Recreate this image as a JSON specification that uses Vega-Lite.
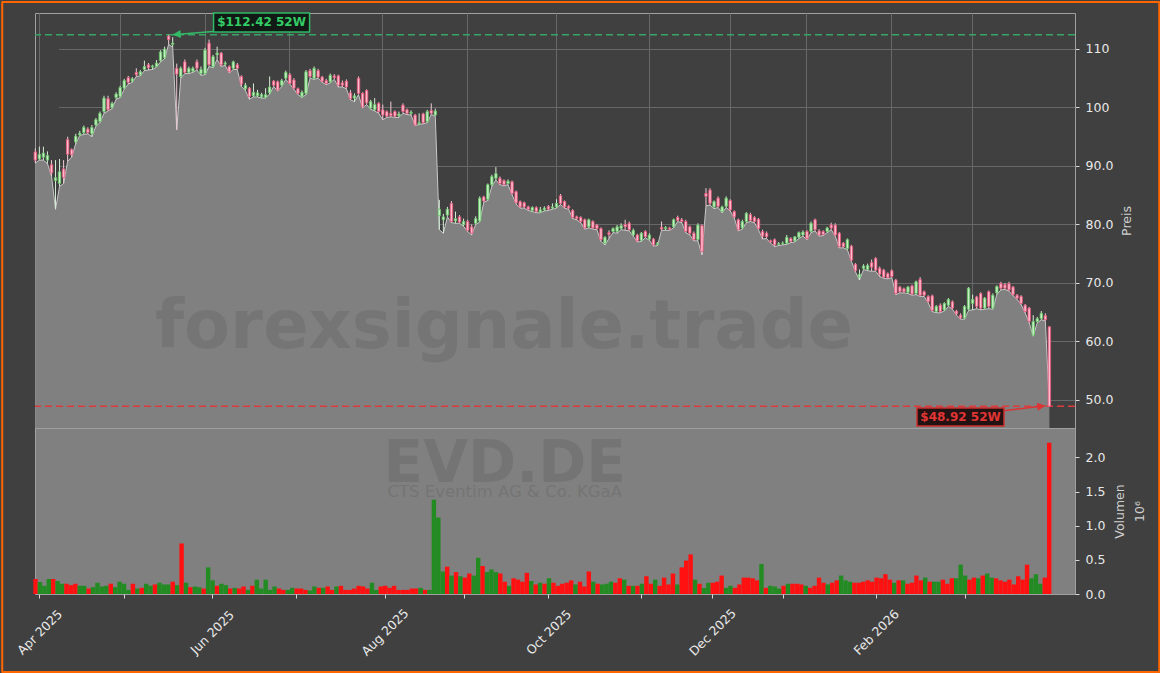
{
"$schema": "https://vega.github.io/schema/vega-lite/v6.json",
"background": "#404040",
"padding": {"left": 0, "top": 0, "right": 0, "bottom": 0},
"spacing": 0,
"bounds": "flush",
"config": {
  "font": "DejaVu Sans",
  "axis": {"labelFont": "DejaVu Sans", "titleFont": "DejaVu Sans", "labelColor": "#e8e8e8", "titleColor": "#d0d0d0", "labelFontSize": 12.5, "titleFontSize": 12.5, "titleFontWeight": "normal", "tickColor": "#d8d8d8", "tickSize": 4, "domain": false, "gridColor": "#686868", "gridWidth": 1},
  "view": {"stroke": "#a0a0a0"}
},
"datasets": {
"ohlc": [
{"d":"2025-03-31","o":92.4,"h":93.0,"l":90.5,"c":91.0,"v":220000},
{"d":"2025-04-01","o":91.2,"h":93.3,"l":91.0,"c":92.0,"v":175000},
{"d":"2025-04-02","o":91.5,"h":93.3,"l":91.0,"c":92.2,"v":120000},
{"d":"2025-04-03","o":91.0,"h":92.5,"l":90.4,"c":91.8,"v":220000},
{"d":"2025-04-04","o":90.2,"h":91.0,"l":88.3,"c":88.8,"v":220000},
{"d":"2025-04-07","o":87.5,"h":91.0,"l":82.6,"c":88.0,"v":190000},
{"d":"2025-04-08","o":87.0,"h":91.2,"l":86.5,"c":89.0,"v":150000},
{"d":"2025-04-09","o":89.5,"h":91.0,"l":87.0,"c":88.0,"v":150000},
{"d":"2025-04-10","o":94.5,"h":95.0,"l":90.8,"c":92.0,"v":130000},
{"d":"2025-04-11","o":92.8,"h":93.0,"l":91.5,"c":91.9,"v":150000},
{"d":"2025-04-14","o":94.1,"h":95.5,"l":93.8,"c":95.1,"v":120000},
{"d":"2025-04-15","o":95.3,"h":96.0,"l":95.2,"c":95.6,"v":null},
{"d":"2025-04-16","o":95.7,"h":96.9,"l":95.4,"c":96.6,"v":120000},
{"d":"2025-04-17","o":96.3,"h":96.6,"l":95.5,"c":95.7,"v":80000},
{"d":"2025-04-22","o":95.5,"h":97.0,"l":95.0,"c":96.6,"v":100000},
{"d":"2025-04-23","o":97.0,"h":98.2,"l":96.8,"c":97.9,"v":165000},
{"d":"2025-04-24","o":97.6,"h":99.3,"l":97.4,"c":99.0,"v":110000},
{"d":"2025-04-25","o":99.3,"h":102.0,"l":99.0,"c":101.6,"v":120000},
{"d":"2025-04-28","o":101.5,"h":102.0,"l":99.4,"c":99.6,"v":150000},
{"d":"2025-04-29","o":100.0,"h":101.0,"l":99.8,"c":100.7,"v":100000},
{"d":"2025-04-30","o":101.7,"h":102.6,"l":101.4,"c":102.3,"v":180000},
{"d":"2025-05-02","o":101.9,"h":103.7,"l":101.7,"c":103.4,"v":150000},
{"d":"2025-05-05","o":103.3,"h":104.9,"l":103.1,"c":104.6,"v":60000},
{"d":"2025-05-06","o":105.1,"h":105.4,"l":104.0,"c":104.3,"v":150000},
{"d":"2025-05-07","o":104.5,"h":105.2,"l":104.3,"c":104.9,"v":80000},
{"d":"2025-05-08","o":106.0,"h":106.7,"l":105.3,"c":105.6,"v":90000},
{"d":"2025-05-09","o":105.6,"h":106.4,"l":105.4,"c":106.1,"v":150000},
{"d":"2025-05-12","o":106.5,"h":108.0,"l":106.3,"c":107.0,"v":120000},
{"d":"2025-05-13","o":107.3,"h":107.6,"l":106.4,"c":106.8,"v":140000},
{"d":"2025-05-14","o":106.9,"h":107.3,"l":106.5,"c":107.1,"v":null},
{"d":"2025-05-15","o":107.0,"h":108.1,"l":106.9,"c":107.6,"v":165000},
{"d":"2025-05-16","o":108.0,"h":109.8,"l":107.8,"c":109.5,"v":140000},
{"d":"2025-05-19","o":108.5,"h":110.4,"l":108.3,"c":110.0,"v":140000},
{"d":"2025-05-20","o":112.2,"h":112.42,"l":110.8,"c":111.6,"v":180000},
{"d":"2025-05-21","o":110.8,"h":112.0,"l":110.3,"c":111.0,"v":130000},
{"d":"2025-05-22","o":106.7,"h":107.5,"l":96.2,"c":105.7,"v":740000},
{"d":"2025-05-23","o":105.3,"h":107.0,"l":105.0,"c":106.7,"v":165000},
{"d":"2025-05-26","o":107.8,"h":108.2,"l":105.8,"c":106.0,"v":100000},
{"d":"2025-05-27","o":106.0,"h":107.0,"l":105.8,"c":106.7,"v":110000},
{"d":"2025-05-28","o":106.2,"h":107.0,"l":106.0,"c":106.7,"v":100000},
{"d":"2025-05-29","o":107.8,"h":108.2,"l":106.4,"c":106.7,"v":80000},
{"d":"2025-05-30","o":105.8,"h":107.0,"l":105.5,"c":106.5,"v":390000},
{"d":"2025-06-02","o":105.8,"h":110.2,"l":105.6,"c":109.8,"v":200000},
{"d":"2025-06-03","o":111.0,"h":111.6,"l":107.0,"c":107.3,"v":120000},
{"d":"2025-06-04","o":107.0,"h":109.0,"l":106.8,"c":108.7,"v":150000},
{"d":"2025-06-05","o":109.0,"h":110.4,"l":108.2,"c":109.3,"v":130000},
{"d":"2025-06-06","o":109.3,"h":109.5,"l":107.0,"c":107.3,"v":80000},
{"d":"2025-06-09","o":107.4,"h":107.9,"l":107.2,"c":107.6,"v":null},
{"d":"2025-06-10","o":107.0,"h":107.2,"l":105.9,"c":106.1,"v":null},
{"d":"2025-06-11","o":106.7,"h":108.0,"l":106.5,"c":107.8,"v":90000},
{"d":"2025-06-12","o":107.3,"h":107.6,"l":106.5,"c":106.7,"v":80000},
{"d":"2025-06-13","o":105.3,"h":105.5,"l":103.6,"c":104.0,"v":110000},
{"d":"2025-06-16","o":103.2,"h":104.2,"l":102.9,"c":103.8,"v":60000},
{"d":"2025-06-17","o":103.3,"h":103.5,"l":101.4,"c":101.9,"v":120000},
{"d":"2025-06-18","o":102.0,"h":104.1,"l":101.8,"c":102.6,"v":210000},
{"d":"2025-06-19","o":102.0,"h":103.0,"l":101.8,"c":102.5,"v":80000},
{"d":"2025-06-20","o":101.8,"h":102.5,"l":101.6,"c":102.2,"v":210000},
{"d":"2025-06-23","o":101.7,"h":103.3,"l":101.6,"c":102.2,"v":60000},
{"d":"2025-06-24","o":102.5,"h":105.3,"l":102.3,"c":103.5,"v":110000},
{"d":"2025-06-25","o":104.5,"h":104.7,"l":103.6,"c":103.8,"v":80000},
{"d":"2025-06-26","o":104.4,"h":104.6,"l":102.8,"c":103.0,"v":60000},
{"d":"2025-06-27","o":103.8,"h":104.9,"l":103.6,"c":104.6,"v":60000},
{"d":"2025-06-30","o":105.0,"h":106.3,"l":104.8,"c":106.0,"v":90000},
{"d":"2025-07-01","o":105.6,"h":105.9,"l":104.0,"c":104.1,"v":80000},
{"d":"2025-07-02","o":104.7,"h":105.0,"l":103.1,"c":103.3,"v":80000},
{"d":"2025-07-03","o":103.2,"h":103.4,"l":102.2,"c":102.4,"v":60000},
{"d":"2025-07-04","o":101.9,"h":102.9,"l":101.7,"c":102.6,"v":50000},
{"d":"2025-07-07","o":102.4,"h":106.4,"l":102.2,"c":106.1,"v":110000},
{"d":"2025-07-08","o":106.3,"h":106.6,"l":105.0,"c":105.3,"v":90000},
{"d":"2025-07-09","o":105.0,"h":107.0,"l":104.8,"c":106.7,"v":90000},
{"d":"2025-07-10","o":106.3,"h":106.6,"l":105.0,"c":105.2,"v":110000},
{"d":"2025-07-11","o":105.2,"h":105.4,"l":104.3,"c":104.5,"v":null},
{"d":"2025-07-14","o":104.6,"h":104.9,"l":103.9,"c":104.1,"v":60000},
{"d":"2025-07-15","o":104.4,"h":105.8,"l":104.2,"c":105.5,"v":110000},
{"d":"2025-07-16","o":105.4,"h":105.7,"l":104.8,"c":105.1,"v":null},
{"d":"2025-07-17","o":105.4,"h":105.6,"l":103.5,"c":103.8,"v":120000},
{"d":"2025-07-18","o":104.2,"h":104.6,"l":103.5,"c":103.8,"v":60000},
{"d":"2025-07-21","o":104.5,"h":104.8,"l":103.2,"c":103.5,"v":60000},
{"d":"2025-07-22","o":102.5,"h":103.0,"l":101.3,"c":101.5,"v":80000},
{"d":"2025-07-23","o":101.6,"h":102.4,"l":101.0,"c":102.0,"v":null},
{"d":"2025-07-24","o":105.0,"h":105.3,"l":102.2,"c":102.4,"v":120000},
{"d":"2025-07-25","o":102.4,"h":102.6,"l":99.9,"c":100.1,"v":110000},
{"d":"2025-07-28","o":102.9,"h":103.1,"l":100.5,"c":100.8,"v":80000},
{"d":"2025-07-29","o":99.9,"h":101.3,"l":99.7,"c":101.0,"v":165000},
{"d":"2025-07-30","o":99.6,"h":101.6,"l":99.4,"c":100.5,"v":60000},
{"d":"2025-07-31","o":100.7,"h":100.9,"l":99.0,"c":99.3,"v":110000},
{"d":"2025-08-01","o":99.6,"h":100.5,"l":97.9,"c":98.7,"v":120000},
{"d":"2025-08-04","o":99.3,"h":99.5,"l":98.3,"c":98.5,"v":90000},
{"d":"2025-08-05","o":99.0,"h":101.0,"l":98.4,"c":98.6,"v":120000},
{"d":"2025-08-06","o":99.3,"h":99.5,"l":98.3,"c":98.5,"v":60000},
{"d":"2025-08-07","o":98.6,"h":99.3,"l":98.3,"c":98.9,"v":null},
{"d":"2025-08-08","o":100.4,"h":100.7,"l":99.0,"c":99.3,"v":60000},
{"d":"2025-08-11","o":99.6,"h":99.8,"l":98.8,"c":99.0,"v":60000},
{"d":"2025-08-12","o":99.0,"h":99.5,"l":98.7,"c":99.2,"v":null},
{"d":"2025-08-13","o":98.7,"h":98.9,"l":96.9,"c":97.0,"v":80000},
{"d":"2025-08-14","o":97.2,"h":99.0,"l":97.1,"c":97.4,"v":null},
{"d":"2025-08-15","o":98.9,"h":99.1,"l":97.2,"c":97.4,"v":80000},
{"d":"2025-08-18","o":97.6,"h":99.6,"l":97.4,"c":99.3,"v":90000},
{"d":"2025-08-19","o":99.5,"h":100.7,"l":98.8,"c":99.0,"v":60000},
{"d":"2025-08-20","o":98.7,"h":99.8,"l":98.5,"c":99.4,"v":60000},
{"d":"2025-08-21","o":81.5,"h":84.2,"l":79.1,"c":82.6,"v":1380000},
{"d":"2025-08-22","o":80.8,"h":81.8,"l":78.5,"c":81.3,"v":1120000},
{"d":"2025-08-25","o":81.6,"h":83.0,"l":81.3,"c":82.6,"v":330000},
{"d":"2025-08-26","o":83.6,"h":84.0,"l":80.3,"c":80.5,"v":400000},
{"d":"2025-08-27","o":80.6,"h":82.2,"l":80.2,"c":81.0,"v":270000},
{"d":"2025-08-28","o":81.3,"h":81.6,"l":80.2,"c":80.4,"v":320000},
{"d":"2025-08-29","o":80.0,"h":81.0,"l":79.7,"c":80.5,"v":260000},
{"d":"2025-09-01","o":80.5,"h":80.8,"l":78.8,"c":79.0,"v":240000},
{"d":"2025-09-02","o":79.6,"h":80.0,"l":78.2,"c":78.5,"v":300000},
{"d":"2025-09-03","o":80.2,"h":81.4,"l":80.0,"c":81.0,"v":270000},
{"d":"2025-09-04","o":80.6,"h":84.8,"l":80.4,"c":84.5,"v":530000},
{"d":"2025-09-05","o":84.7,"h":84.9,"l":83.8,"c":84.0,"v":410000},
{"d":"2025-09-08","o":84.3,"h":87.0,"l":84.1,"c":86.8,"v":320000},
{"d":"2025-09-09","o":86.8,"h":88.5,"l":86.5,"c":88.2,"v":360000},
{"d":"2025-09-10","o":87.9,"h":89.8,"l":87.6,"c":88.7,"v":320000},
{"d":"2025-09-11","o":87.9,"h":88.2,"l":86.8,"c":87.0,"v":300000},
{"d":"2025-09-12","o":87.5,"h":87.7,"l":86.6,"c":86.8,"v":180000},
{"d":"2025-09-15","o":87.0,"h":87.7,"l":86.8,"c":87.4,"v":120000},
{"d":"2025-09-16","o":87.3,"h":87.5,"l":85.1,"c":85.3,"v":230000},
{"d":"2025-09-17","o":85.6,"h":85.8,"l":83.5,"c":83.7,"v":210000},
{"d":"2025-09-18","o":83.9,"h":84.1,"l":82.8,"c":83.0,"v":180000},
{"d":"2025-09-19","o":83.7,"h":83.9,"l":82.8,"c":83.0,"v":310000},
{"d":"2025-09-22","o":83.0,"h":83.2,"l":82.4,"c":82.6,"v":null},
{"d":"2025-09-23","o":82.4,"h":83.1,"l":82.2,"c":82.9,"v":190000},
{"d":"2025-09-24","o":82.9,"h":83.1,"l":82.0,"c":82.2,"v":140000},
{"d":"2025-09-25","o":82.1,"h":83.0,"l":82.0,"c":82.5,"v":165000},
{"d":"2025-09-26","o":82.5,"h":83.1,"l":82.3,"c":82.8,"v":null},
{"d":"2025-09-29","o":83.1,"h":83.3,"l":82.4,"c":82.6,"v":150000},
{"d":"2025-09-30","o":82.8,"h":83.6,"l":82.6,"c":83.0,"v":null},
{"d":"2025-10-01","o":83.0,"h":84.3,"l":82.8,"c":83.6,"v":230000},
{"d":"2025-10-02","o":84.9,"h":85.2,"l":83.4,"c":83.6,"v":165000},
{"d":"2025-10-03","o":83.9,"h":84.1,"l":82.8,"c":83.0,"v":120000},
{"d":"2025-10-06","o":83.1,"h":83.3,"l":82.6,"c":82.8,"v":null},
{"d":"2025-10-07","o":82.4,"h":82.6,"l":81.0,"c":81.2,"v":150000},
{"d":"2025-10-08","o":81.3,"h":81.5,"l":80.8,"c":81.0,"v":null},
{"d":"2025-10-09","o":81.2,"h":81.4,"l":80.3,"c":80.5,"v":165000},
{"d":"2025-10-10","o":80.8,"h":81.0,"l":79.2,"c":79.4,"v":200000},
{"d":"2025-10-13","o":79.6,"h":81.0,"l":79.4,"c":80.8,"v":140000},
{"d":"2025-10-14","o":80.5,"h":80.7,"l":79.2,"c":79.4,"v":180000},
{"d":"2025-10-15","o":79.9,"h":80.1,"l":79.1,"c":79.3,"v":110000},
{"d":"2025-10-16","o":79.3,"h":79.5,"l":77.1,"c":77.4,"v":330000},
{"d":"2025-10-17","o":76.8,"h":78.0,"l":76.5,"c":77.8,"v":180000},
{"d":"2025-10-20","o":78.6,"h":79.0,"l":77.6,"c":78.3,"v":150000},
{"d":"2025-10-21","o":78.8,"h":79.5,"l":78.6,"c":79.3,"v":140000},
{"d":"2025-10-22","o":78.8,"h":79.9,"l":78.5,"c":79.6,"v":150000},
{"d":"2025-10-23","o":79.3,"h":80.2,"l":79.1,"c":79.8,"v":180000},
{"d":"2025-10-24","o":80.0,"h":80.8,"l":79.0,"c":79.6,"v":165000},
{"d":"2025-10-27","o":80.2,"h":80.5,"l":78.9,"c":79.1,"v":230000},
{"d":"2025-10-28","o":78.2,"h":79.3,"l":78.0,"c":79.0,"v":210000},
{"d":"2025-10-29","o":78.2,"h":78.4,"l":77.0,"c":77.2,"v":120000},
{"d":"2025-10-30","o":77.3,"h":78.7,"l":77.1,"c":78.5,"v":120000},
{"d":"2025-10-31","o":78.8,"h":79.0,"l":77.7,"c":77.9,"v":120000},
{"d":"2025-11-03","o":77.5,"h":78.5,"l":77.3,"c":78.2,"v":150000},
{"d":"2025-11-04","o":77.5,"h":77.7,"l":76.3,"c":76.5,"v":260000},
{"d":"2025-11-05","o":76.6,"h":77.0,"l":76.4,"c":76.8,"v":null},
{"d":"2025-11-06","o":79.5,"h":80.5,"l":79.0,"c":79.2,"v":150000},
{"d":"2025-11-07","o":79.3,"h":79.7,"l":79.0,"c":79.5,"v":null},
{"d":"2025-11-10","o":79.4,"h":79.6,"l":79.0,"c":79.2,"v":null},
{"d":"2025-11-11","o":79.6,"h":81.0,"l":79.4,"c":80.8,"v":210000},
{"d":"2025-11-12","o":81.2,"h":81.5,"l":80.5,"c":80.7,"v":120000},
{"d":"2025-11-13","o":80.8,"h":81.1,"l":80.3,"c":80.5,"v":null},
{"d":"2025-11-14","o":80.5,"h":80.8,"l":78.6,"c":78.8,"v":240000},
{"d":"2025-11-17","o":79.6,"h":79.8,"l":78.2,"c":78.5,"v":140000},
{"d":"2025-11-18","o":78.5,"h":78.8,"l":77.2,"c":77.4,"v":300000},
{"d":"2025-11-19","o":77.4,"h":80.2,"l":77.2,"c":79.9,"v":140000},
{"d":"2025-11-20","o":79.8,"h":80.0,"l":74.8,"c":75.4,"v":390000},
{"d":"2025-11-21","o":85.3,"h":86.2,"l":83.2,"c":84.8,"v":490000},
{"d":"2025-11-24","o":85.9,"h":86.2,"l":83.3,"c":83.6,"v":580000},
{"d":"2025-11-25","o":83.0,"h":84.1,"l":82.7,"c":83.9,"v":210000},
{"d":"2025-11-26","o":84.5,"h":84.8,"l":82.9,"c":83.1,"v":150000},
{"d":"2025-11-27","o":82.2,"h":83.2,"l":82.0,"c":83.0,"v":90000},
{"d":"2025-11-28","o":83.1,"h":84.8,"l":82.9,"c":84.5,"v":165000},
{"d":"2025-12-01","o":84.1,"h":84.3,"l":82.3,"c":82.5,"v":165000},
{"d":"2025-12-02","o":82.2,"h":82.4,"l":81.1,"c":81.3,"v":180000},
{"d":"2025-12-03","o":80.8,"h":81.0,"l":78.9,"c":79.1,"v":270000},
{"d":"2025-12-04","o":79.4,"h":80.8,"l":79.2,"c":80.5,"v":90000},
{"d":"2025-12-05","o":80.5,"h":82.1,"l":80.3,"c":81.9,"v":120000},
{"d":"2025-12-08","o":81.7,"h":82.0,"l":80.5,"c":80.7,"v":90000},
{"d":"2025-12-09","o":81.2,"h":81.4,"l":80.3,"c":80.5,"v":140000},
{"d":"2025-12-10","o":80.9,"h":81.1,"l":79.1,"c":79.3,"v":240000},
{"d":"2025-12-11","o":78.8,"h":79.1,"l":77.5,"c":78.0,"v":240000},
{"d":"2025-12-12","o":78.5,"h":78.8,"l":77.6,"c":77.9,"v":230000},
{"d":"2025-12-15","o":77.2,"h":77.4,"l":76.8,"c":77.0,"v":null},
{"d":"2025-12-16","o":77.4,"h":77.6,"l":76.2,"c":76.5,"v":200000},
{"d":"2025-12-17","o":76.6,"h":77.0,"l":76.4,"c":76.7,"v":null},
{"d":"2025-12-18","o":76.7,"h":77.1,"l":76.5,"c":76.8,"v":null},
{"d":"2025-12-19","o":76.8,"h":78.2,"l":76.6,"c":77.8,"v":440000},
{"d":"2025-12-22","o":77.6,"h":77.8,"l":76.9,"c":77.1,"v":90000},
{"d":"2025-12-23","o":77.2,"h":78.0,"l":77.0,"c":77.9,"v":120000},
{"d":"2025-12-29","o":77.8,"h":78.8,"l":77.6,"c":78.6,"v":110000},
{"d":"2025-12-30","o":78.2,"h":79.0,"l":78.0,"c":78.7,"v":80000},
{"d":"2026-01-02","o":78.8,"h":79.0,"l":77.4,"c":77.6,"v":120000},
{"d":"2026-01-05","o":78.8,"h":80.5,"l":78.6,"c":80.2,"v":150000},
{"d":"2026-01-06","o":80.8,"h":81.0,"l":78.9,"c":79.1,"v":150000},
{"d":"2026-01-07","o":78.9,"h":79.2,"l":78.0,"c":78.2,"v":150000},
{"d":"2026-01-08","o":78.8,"h":79.0,"l":78.1,"c":78.3,"v":140000},
{"d":"2026-01-09","o":78.8,"h":79.6,"l":78.6,"c":79.4,"v":120000},
{"d":"2026-01-12","o":79.9,"h":80.3,"l":79.1,"c":79.4,"v":90000},
{"d":"2026-01-13","o":79.9,"h":80.2,"l":78.0,"c":78.2,"v":120000},
{"d":"2026-01-14","o":78.5,"h":78.7,"l":76.0,"c":76.2,"v":240000},
{"d":"2026-01-15","o":76.8,"h":77.0,"l":76.0,"c":76.2,"v":165000},
{"d":"2026-01-16","o":75.9,"h":77.6,"l":75.7,"c":77.4,"v":140000},
{"d":"2026-01-19","o":76.3,"h":76.5,"l":73.7,"c":73.9,"v":165000},
{"d":"2026-01-20","o":73.2,"h":73.4,"l":71.9,"c":72.1,"v":200000},
{"d":"2026-01-21","o":71.0,"h":72.3,"l":70.5,"c":71.5,"v":270000},
{"d":"2026-01-22","o":72.5,"h":73.2,"l":72.3,"c":72.9,"v":200000},
{"d":"2026-01-23","o":72.3,"h":73.3,"l":72.1,"c":73.0,"v":180000},
{"d":"2026-01-26","o":73.5,"h":74.0,"l":72.0,"c":72.7,"v":165000},
{"d":"2026-01-27","o":74.2,"h":74.4,"l":72.0,"c":72.2,"v":165000},
{"d":"2026-01-28","o":72.5,"h":72.8,"l":71.1,"c":71.5,"v":180000},
{"d":"2026-01-29","o":72.2,"h":72.4,"l":70.8,"c":71.0,"v":200000},
{"d":"2026-01-30","o":71.6,"h":71.8,"l":70.7,"c":70.9,"v":180000},
{"d":"2026-02-02","o":72.1,"h":72.3,"l":70.9,"c":71.1,"v":240000},
{"d":"2026-02-03","o":70.5,"h":70.7,"l":68.0,"c":68.2,"v":230000},
{"d":"2026-02-04","o":69.3,"h":69.5,"l":68.3,"c":68.5,"v":290000},
{"d":"2026-02-05","o":69.0,"h":69.2,"l":68.3,"c":68.5,"v":210000},
{"d":"2026-02-06","o":68.4,"h":69.5,"l":68.2,"c":69.3,"v":165000},
{"d":"2026-02-09","o":69.5,"h":69.7,"l":67.9,"c":68.1,"v":200000},
{"d":"2026-02-10","o":68.2,"h":70.4,"l":68.0,"c":70.2,"v":200000},
{"d":"2026-02-11","o":70.6,"h":71.0,"l":67.7,"c":67.9,"v":150000},
{"d":"2026-02-12","o":68.5,"h":68.7,"l":67.7,"c":67.9,"v":165000},
{"d":"2026-02-13","o":67.7,"h":67.9,"l":66.6,"c":66.8,"v":270000},
{"d":"2026-02-16","o":67.8,"h":68.0,"l":65.1,"c":65.3,"v":200000},
{"d":"2026-02-17","o":65.1,"h":66.2,"l":64.9,"c":66.0,"v":240000},
{"d":"2026-02-18","o":66.2,"h":66.5,"l":64.9,"c":65.1,"v":180000},
{"d":"2026-02-19","o":65.4,"h":66.7,"l":65.2,"c":66.5,"v":180000},
{"d":"2026-02-20","o":66.2,"h":67.4,"l":66.0,"c":67.2,"v":180000},
{"d":"2026-02-23","o":66.8,"h":67.0,"l":65.5,"c":65.7,"v":210000},
{"d":"2026-02-24","o":65.2,"h":65.4,"l":64.5,"c":64.7,"v":150000},
{"d":"2026-02-25","o":64.5,"h":64.8,"l":63.8,"c":64.0,"v":230000},
{"d":"2026-02-26","o":64.0,"h":66.2,"l":63.8,"c":66.0,"v":230000},
{"d":"2026-02-27","o":65.5,"h":69.3,"l":65.3,"c":69.1,"v":430000},
{"d":"2026-03-02","o":66.5,"h":68.0,"l":65.4,"c":67.2,"v":270000},
{"d":"2026-03-03","o":67.6,"h":67.8,"l":65.6,"c":66.0,"v":210000},
{"d":"2026-03-04","o":68.2,"h":68.4,"l":65.4,"c":65.7,"v":240000},
{"d":"2026-03-05","o":65.7,"h":67.6,"l":65.5,"c":67.4,"v":230000},
{"d":"2026-03-06","o":68.5,"h":68.7,"l":65.6,"c":66.0,"v":270000},
{"d":"2026-03-09","o":65.7,"h":68.2,"l":65.5,"c":67.9,"v":300000},
{"d":"2026-03-10","o":68.3,"h":69.6,"l":68.0,"c":69.4,"v":240000},
{"d":"2026-03-11","o":69.9,"h":70.2,"l":68.8,"c":69.1,"v":230000},
{"d":"2026-03-12","o":69.7,"h":70.0,"l":68.9,"c":69.1,"v":200000},
{"d":"2026-03-13","o":69.9,"h":70.2,"l":68.6,"c":68.8,"v":180000},
{"d":"2026-03-16","o":69.3,"h":69.5,"l":67.8,"c":68.0,"v":210000},
{"d":"2026-03-17","o":67.9,"h":68.1,"l":67.2,"c":67.4,"v":140000},
{"d":"2026-03-18","o":67.7,"h":67.9,"l":66.3,"c":66.5,"v":260000},
{"d":"2026-03-19","o":66.2,"h":66.4,"l":64.9,"c":65.1,"v":210000},
{"d":"2026-03-20","o":65.7,"h":65.9,"l":63.2,"c":63.4,"v":430000},
{"d":"2026-03-23","o":61.1,"h":64.5,"l":60.9,"c":63.4,"v":230000},
{"d":"2026-03-24","o":63.4,"h":64.2,"l":63.2,"c":63.9,"v":290000},
{"d":"2026-03-25","o":63.9,"h":65.2,"l":63.7,"c":64.8,"v":150000},
{"d":"2026-03-26","o":64.4,"h":64.8,"l":63.5,"c":63.7,"v":240000},
{"d":"2026-03-27","o":62.5,"h":62.6,"l":48.92,"c":48.92,"v":2215000}
]
},
"vconcat": [
{
  "width": 1040,
  "height": 415,
  "view": {"fill": "#404040", "stroke": "#a0a0a0"},
  "layer": [
    {
      "data": {"name": "ohlc"},
      "mark": {"type": "area", "color": "#808080", "opacity": 1, "clip": true, "line": {"color": "#c8c8c8", "strokeWidth": 1}},
      "encoding": {
        "x": {"field": "d", "type": "ordinal", "bandPosition": 0.5,
              "scale": {"type": "band", "paddingInner": 0, "paddingOuter": 0, "rangeMin": -1.7, "rangeMax": 1016.4},
              "axis": {"values": ["2025-04-01","2025-05-02","2025-06-02","2025-07-01","2025-08-01","2025-09-01","2025-10-01","2025-11-03","2025-12-01","2026-01-02","2026-02-02","2026-03-02"], "labels": false, "ticks": false, "domain": false, "grid": true, "title": null}},
        "y": {"field": "l", "type": "quantitative", "title": "Preis",
              "scale": {"domain": [45.2, 116.15], "nice": false, "zero": false},
              "axis": {"orient": "right", "values": [50, 60, 70, 80, 90, 100, 110], "labelExpr": "datum.value >= 100 ? format(datum.value, 'd') : format(datum.value, '.1f')", "grid": true, "labelPadding": 6, "titleAngle": 270, "titleBaseline": "top", "titlePadding": 8}}
      }
    },
    {
      "data": {"values": [{"t": "forexsignale.trade"}]},
      "mark": {"type": "text", "font": "DejaVu Sans", "fontWeight": "bold", "fontSize": 67, "color": "#262626", "opacity": 0.11, "align": "center", "baseline": "alphabetic"},
      "encoding": {
        "x": {"datum": "2025-09-12", "type": "ordinal", "bandPosition": 0.5},
        "y": {"datum": 58.9, "type": "quantitative", "title": "Preis"},
        "text": {"field": "t", "type": "nominal"}
      }
    },
    {
      "data": {"values": [{"k": "52W Hoch", "p": 112.42}, {"k": "52W Tief", "p": 48.92}]},
      "mark": {"type": "rule", "strokeDash": [7, 4], "strokeWidth": 1.5},
      "encoding": {
        "y": {"field": "p", "type": "quantitative", "title": "Preis"},
        "color": {"field": "k", "type": "nominal", "scale": {"domain": ["52W Hoch", "52W Tief"], "range": ["#38a466", "#dd3b3b"]}, "legend": null}
      }
    },
    {
      "data": {"name": "ohlc"},
      "mark": {"type": "rule", "strokeWidth": 1},
      "encoding": {
        "x": {"field": "d", "type": "ordinal", "bandPosition": 0.5},
        "y": {"field": "l", "type": "quantitative", "title": "Preis"},
        "y2": {"field": "h"},
        "stroke": {"condition": {"test": "datum.c >= datum.o", "value": "#d6ecd6"}, "value": "#f0ccd4"}
      }
    },
    {
      "data": {"name": "ohlc"},
      "mark": {"type": "bar", "width": {"band": 0.6}, "strokeWidth": 0.8},
      "encoding": {
        "x": {"field": "d", "type": "ordinal"},
        "y": {"field": "o", "type": "quantitative", "title": "Preis"},
        "y2": {"field": "c"},
        "fill": {"condition": {"test": "datum.c >= datum.o", "value": "#c6efc6"}, "value": "#ffbccb"},
        "stroke": {"condition": {"test": "datum.c >= datum.o", "value": "#62c462"}, "value": "#e8527a"}
      }
    },
    {
      "data": {"values": [{"t": "$112.42 52W"}]},
      "mark": {"type": "rule", "color": "#33bb66", "strokeWidth": 1.5},
      "encoding": {
        "x": {"datum": "2025-06-04", "type": "ordinal", "bandPosition": 0.5},
        "x2": {"datum": "2025-05-21"},
        "y": {"datum": 113.0, "type": "quantitative", "title": "Preis"},
        "y2": {"datum": 112.45}
      }
    },
    {
      "data": {"values": [{"t": "$112.42 52W"}]},
      "mark": {"type": "point", "shape": "M0,0L1,-0.5L1,0.5Z", "size": 256, "filled": true, "fill": "#33bb66", "strokeWidth": 0, "opacity": 1, "angle": 355.5},
      "encoding": {
        "x": {"datum": "2025-05-21", "type": "ordinal", "bandPosition": 0.5},
        "y": {"datum": 112.45, "type": "quantitative", "title": "Preis"}
      }
    },
    {
      "data": {"values": [{"t": "$112.42 52W"}]},
      "mark": {"type": "point", "shape": "M-1,-0.198L1,-0.198L1,0.198L-1,0.198Z", "size": 9216, "filled": true, "fill": "#111a14", "stroke": "#2fb865", "strokeWidth": 1.5, "opacity": 1},
      "encoding": {
        "x": {"datum": "2025-06-20", "type": "ordinal", "bandPosition": 0.5},
        "y": {"datum": 114.53, "type": "quantitative", "title": "Preis"}
      }
    },
    {
      "data": {"values": [{"t": "$112.42 52W"}]},
      "mark": {"type": "text", "font": "DejaVu Sans", "fontWeight": "bold", "fontSize": 12, "color": "#33cc66", "align": "center", "baseline": "middle"},
      "encoding": {
        "x": {"datum": "2025-06-20", "type": "ordinal", "bandPosition": 0.5},
        "y": {"datum": 114.53, "type": "quantitative", "title": "Preis"},
        "text": {"field": "t", "type": "nominal"}
      }
    },
    {
      "data": {"values": [{"t": "$48.92 52W"}]},
      "mark": {"type": "rule", "color": "#dd3333", "strokeWidth": 1.5},
      "encoding": {
        "x": {"datum": "2026-03-11", "type": "ordinal", "bandPosition": 0.5},
        "x2": {"datum": "2026-03-26"},
        "y": {"datum": 48.12, "type": "quantitative", "title": "Preis"},
        "y2": {"datum": 49.0}
      }
    },
    {
      "data": {"values": [{"t": "$48.92 52W"}]},
      "mark": {"type": "point", "shape": "M0,0L-1,-0.5L-1,0.5Z", "size": 256, "filled": true, "fill": "#dd3333", "strokeWidth": 0, "opacity": 1, "angle": 353.3},
      "encoding": {
        "x": {"datum": "2026-03-26", "type": "ordinal", "bandPosition": 0.5},
        "y": {"datum": 49.0, "type": "quantitative", "title": "Preis"}
      }
    },
    {
      "data": {"values": [{"t": "$48.92 52W"}]},
      "mark": {"type": "point", "shape": "M-1,-0.207L1,-0.207L1,0.207L-1,0.207Z", "size": 7569, "filled": true, "fill": "#231212", "stroke": "#cc2f2f", "strokeWidth": 1.5, "opacity": 1},
      "encoding": {
        "x": {"datum": "2026-02-25", "type": "ordinal", "bandPosition": 0.5},
        "y": {"datum": 47.09, "type": "quantitative", "title": "Preis"}
      }
    },
    {
      "data": {"values": [{"t": "$48.92 52W"}]},
      "mark": {"type": "text", "font": "DejaVu Sans", "fontWeight": "bold", "fontSize": 12, "color": "#e03535", "align": "center", "baseline": "middle"},
      "encoding": {
        "x": {"datum": "2026-02-25", "type": "ordinal", "bandPosition": 0.5},
        "y": {"datum": 47.09, "type": "quantitative", "title": "Preis"},
        "text": {"field": "t", "type": "nominal"}
      }
    },
    {
      "data": {"values": [{"t": "frame"}]},
      "mark": {"type": "point", "shape": "M-1,-0.57908L1,-0.57908L1,0.57908L-1,0.57908Z", "size": 1338649, "filled": false, "color": "#ff6600", "strokeWidth": 2, "strokeJoin": "round", "opacity": 1, "clip": false},
      "encoding": {
        "x": {"datum": "2025-10-09", "type": "ordinal", "bandPosition": 0.5},
        "y": {"datum": 60.76, "type": "quantitative", "title": "Preis"}
      }
    }
  ]
},
{
  "width": 1040,
  "height": 166,
  "view": {"fill": "#808080", "stroke": "#a0a0a0"},
  "layer": [
    {
      "data": {"values": [{"t": "EVD.DE"}]},
      "mark": {"type": "text", "font": "DejaVu Sans", "fontWeight": "bold", "fontSize": 58, "color": "#262626", "opacity": 0.12, "align": "center", "baseline": "alphabetic"},
      "encoding": {
        "x": {"datum": "2025-09-12", "type": "ordinal", "bandPosition": 0.5},
        "y": {"datum": 1644000, "type": "quantitative", "title": ["Volumen", "10⁶"]},
        "text": {"field": "t", "type": "nominal"}
      }
    },
    {
      "data": {"values": [{"t": "CTS Eventim AG & Co. KGaA"}]},
      "mark": {"type": "text", "font": "DejaVu Sans", "fontSize": 16.5, "color": "#262626", "opacity": 0.12, "align": "center", "baseline": "alphabetic"},
      "encoding": {
        "x": {"datum": "2025-09-12", "type": "ordinal", "bandPosition": 0.5},
        "y": {"datum": 1420000, "type": "quantitative", "title": ["Volumen", "10⁶"]},
        "text": {"field": "t", "type": "nominal"}
      }
    },
    {
      "data": {"name": "ohlc"},
      "mark": {"type": "bar", "width": {"band": 1}},
      "encoding": {
        "x": {"field": "d", "type": "ordinal",
              "scale": {"type": "band", "paddingInner": 0, "paddingOuter": 0, "rangeMin": -1.7, "rangeMax": 1016.4},
              "axis": {"values": ["2025-04-01","2025-05-02","2025-06-02","2025-07-01","2025-08-01","2025-09-01","2025-10-01","2025-11-03","2025-12-01","2026-01-02","2026-02-02","2026-03-02"],
                       "labelExpr": "indexof(['2025-04-01','2025-06-02','2025-08-01','2025-10-01','2025-12-01','2026-02-02'], datum.value) >= 0 ? utcFormat(toDate(datum.value), '%b %Y') : ''",
                       "labelAngle": -45, "labelAlign": "center", "labelBaseline": "middle", "labelPadding": 34, "labelOverlap": false, "grid": false, "title": null}},
        "y": {"field": "v", "type": "quantitative", "title": ["Volumen", "10⁶"],
              "scale": {"domain": [0, 2430000], "nice": false},
              "axis": {"orient": "right", "values": [0, 500000, 1000000, 1500000, 2000000], "labelExpr": "format(datum.value / 1000000, '.1f')", "grid": false, "labelPadding": 6, "titleAngle": 270, "titleBaseline": "top", "titlePadding": -11, "titleLineHeight": 20}},
        "color": {"condition": {"test": "datum.c >= datum.o", "value": "#228b22"}, "value": "#ff1111"}
      }
    }
  ]
}
]
}
